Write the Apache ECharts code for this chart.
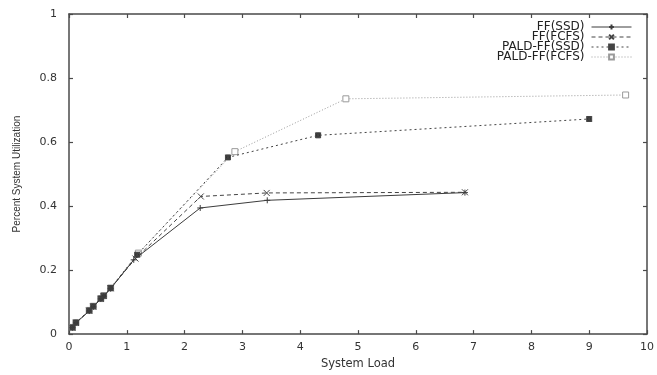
<!DOCTYPE html>
<html>
<head>
<meta charset="utf-8">
<script src="https://cdn.jsdelivr.net/npm/echarts@6/dist/echarts.min.js"></script>
<style>
  html, body { margin: 0; padding: 0; background: #fff; }
  #chart { width: 657px; height: 375px; }
</style>
</head>
<body>
<div id="chart"></div>
<script>
// Utilization vs. offered load for four allocation policies
const seriesNames = ['FF(SSD)', 'FF(FCFS)', 'PALD-FF(SSD)', 'PALD-FF(FCFS)'];

const ffSsd = [[0.06, 0.02], [0.12, 0.035], [0.35, 0.072], [0.42, 0.085], [0.55, 0.11], [0.6, 0.118], [0.72, 0.142], [1.12, 0.232], [2.27, 0.394], [3.43, 0.418], [6.85, 0.442]];
const ffFcfs = [[0.06, 0.02], [0.12, 0.035], [0.35, 0.073], [0.42, 0.086], [0.55, 0.11], [0.6, 0.119], [0.72, 0.143], [1.15, 0.236], [2.28, 0.43], [3.42, 0.441], [6.85, 0.443]];
const paldSsd = [[0.06, 0.021], [0.12, 0.036], [0.35, 0.074], [0.42, 0.087], [0.55, 0.111], [0.6, 0.12], [0.72, 0.144], [1.18, 0.248], [2.75, 0.552], [4.31, 0.621], [9.0, 0.672]];
const paldFcfs = [[0.06, 0.021], [0.12, 0.036], [0.35, 0.074], [0.42, 0.087], [0.55, 0.111], [0.6, 0.12], [0.72, 0.144], [1.2, 0.253], [2.87, 0.57], [4.79, 0.735], [9.63, 0.747]];

const xTicks = [0, 1, 2, 3, 4, 5, 6, 7, 8, 9, 10];
const yTicks = [0, 0.2, 0.4, 0.6, 0.8, 1];

const wideFont = 'DejaVu Sans, Verdana, sans-serif';
const font = 'Liberation Sans, Arial, Helvetica, sans-serif';
const axisColor = '#4a4a4a';

const plusPath = 'path://M5,0 L5,10 M0,5 L10,5';
const crossPath = 'path://M0,0 L10,10 M10,0 L0,10';
const starPath = 'path://M0,0 L10,0 L10,10 L0,10 Z M0,0 L10,10 M10,0 L0,10 M5,0 L5,10';

function frameAxis(pos, isX, showLabel, name) {
  const ticks = isX ? xTicks : yTicks;
  return {
    type: 'value',
    position: pos,
    min: ticks[0],
    max: ticks[ticks.length - 1],
    interval: isX ? 1 : 0.2,
    name: name || '',
    nameLocation: 'middle',
    nameGap: isX ? 20 : 47,
    nameTextStyle: isX
      ? { fontFamily: wideFont, fontSize: 11.5, color: '#333' }
      : { fontFamily: font, fontSize: 10, color: '#333' },
    axisLine: { show: true, onZero: false, lineStyle: { color: axisColor, width: 1.5 } },
    axisTick: { show: true, inside: true, length: 4, lineStyle: { color: axisColor, width: 1.2 } },
    axisLabel: {
      show: showLabel,
      fontFamily: wideFont,
      fontSize: 11,
      color: '#333',
      margin: isX ? 8 : 12,
      formatter: v => String(Math.round(v * 10) / 10)
    },
    splitLine: { show: false }
  };
}

function lineSeries(name, data, lineType, color, symbol, symbolSize, fill, z) {
  return {
    name: name,
    type: 'line',
    data: data,
    symbol: symbol,
    symbolSize: symbolSize,
    showAllSymbol: true,
    lineStyle: { color: color, width: 1, type: lineType },
    itemStyle: { color: fill, borderColor: color, borderWidth: 1 },
    emphasis: { disabled: true },
    z: z
  };
}

const chart = echarts.init(document.getElementById('chart'), null, { renderer: 'canvas' });
chart.setOption({
  animation: false,
  backgroundColor: '#fff',
  grid: { left: 69, right: 10, top: 14, bottom: 34 },
  legend: {
    right: 20,
    top: 16,
    orient: 'vertical',
    align: 'right',
    itemWidth: 40,
    itemHeight: 6,
    itemGap: -2,
    lineStyle: { width: 1 },
    textStyle: { fontFamily: wideFont, fontSize: 12, color: '#222', padding: [0, 2, 0, 0] },
    data: seriesNames
  },
  xAxis: [
    frameAxis('bottom', true, true, 'System Load'),
    frameAxis('top', true, false)
  ],
  yAxis: [
    frameAxis('left', false, true, 'Percent System Utilization'),
    frameAxis('right', false, false)
  ],
  series: [
    lineSeries(seriesNames[0], ffSsd, 'solid', '#3c3c3c', plusPath, 6, 'none', 6),
    lineSeries(seriesNames[1], ffFcfs, [4, 3], '#444', crossPath, 6, 'none', 5),
    lineSeries(seriesNames[2], paldSsd, [2, 3], '#444', starPath, 5, '#333', 4),
    lineSeries(seriesNames[3], paldFcfs, [1, 2], '#9a9a9a', 'rect', 6, '#fff', 3)
  ]
});
</script>
</body>
</html>
